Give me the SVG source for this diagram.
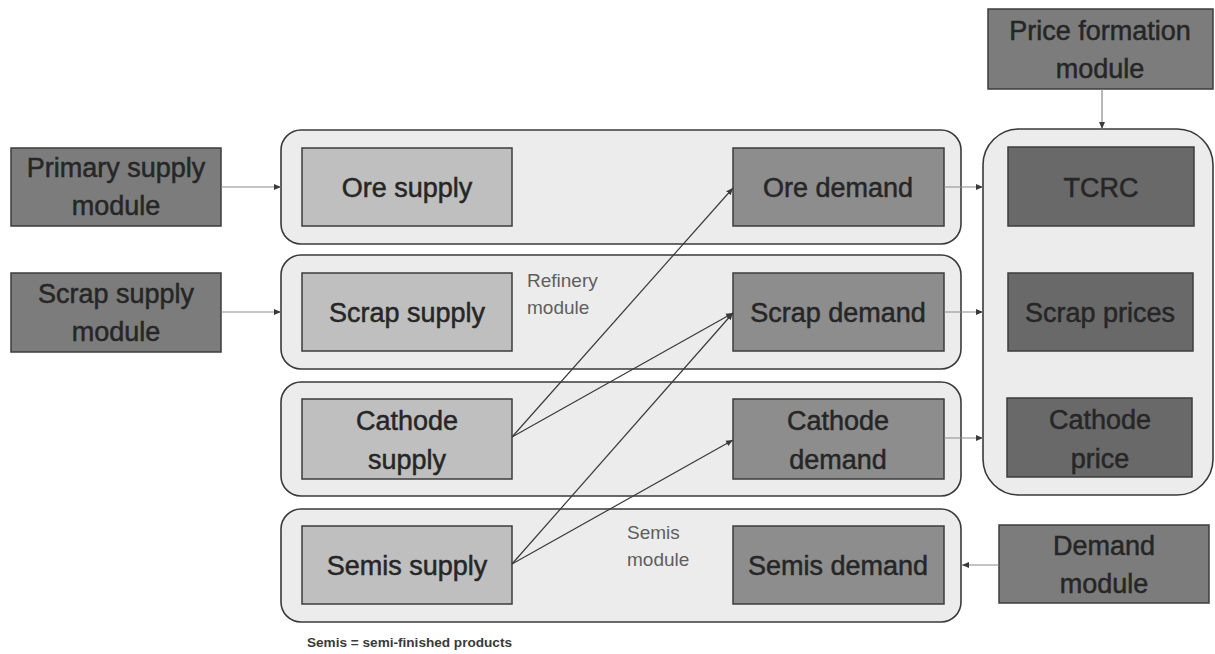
<svg xmlns="http://www.w3.org/2000/svg" width="1215" height="654" viewBox="0 0 1215 654">
  <style>
    .module { fill: #7c7c7c; stroke: #3c3c3c; stroke-width: 1.5; }
    .supply { fill: #bfbfbf; stroke: #3c3c3c; stroke-width: 1.5; }
    .demand { fill: #8d8d8d; stroke: #3c3c3c; stroke-width: 1.5; }
    .price  { fill: #696969; stroke: #3c3c3c; stroke-width: 1.5; }
    .group  { fill: #ececec; stroke: #3a3a3a; stroke-width: 1.6; }
    .t { font-family: "Liberation Sans", Arial, sans-serif; font-size: 27px; fill: #262626; stroke: #262626; stroke-width: 0.5; text-anchor: middle; }
    .lbl { font-family: "Liberation Sans", Arial, sans-serif; font-size: 19px; fill: #5e5e5e; }
    .note { font-family: "Liberation Sans", Arial, sans-serif; font-size: 12px; font-weight: bold; fill: #3a3a3a; }
    .link { stroke: #3a3a3a; stroke-width: 1.2; fill: none; marker-end: url(#arrow); }
    .feed { stroke: #8a8a8a; stroke-width: 1.2; fill: none; marker-end: url(#arrow); }
  </style>
  <defs>
    <marker id="arrow" markerWidth="8" markerHeight="8" refX="7" refY="4" orient="auto" markerUnits="userSpaceOnUse">
      <path d="M0,1 L7,4 L0,7 Z" fill="#3a3a3a"/>
    </marker>
  </defs>

  <rect width="1215" height="654" fill="#ffffff"/>

  <!-- row containers -->
  <g id="ore-row"><rect class="group" x="281" y="130" width="680" height="114" rx="20"/></g>
  <g id="scrap-row"><rect class="group" x="281" y="255" width="680" height="114" rx="20"/></g>
  <g id="cathode-row"><rect class="group" x="281" y="382" width="680" height="114" rx="20"/></g>
  <g id="semis-row"><rect class="group" x="281" y="509" width="680" height="113" rx="20"/></g>
  <g id="price-group"><rect class="group" x="983" y="129" width="230" height="366" rx="36"/></g>

  <!-- external modules -->
  <g id="primary-supply-module">
    <rect class="module" x="11" y="148" width="210" height="78"/>
    <text class="t" x="116" y="177">Primary supply</text>
    <text class="t" x="116" y="215">module</text>
  </g>
  <g id="scrap-supply-module">
    <rect class="module" x="11" y="273" width="210" height="79"/>
    <text class="t" x="116" y="303">Scrap supply</text>
    <text class="t" x="116" y="341">module</text>
  </g>
  <g id="price-formation-module">
    <rect class="module" x="988" y="9" width="225" height="80"/>
    <text class="t" x="1100" y="40">Price formation</text>
    <text class="t" x="1100" y="78">module</text>
  </g>
  <g id="demand-module">
    <rect class="module" x="999" y="525" width="210" height="78"/>
    <text class="t" x="1104" y="555">Demand</text>
    <text class="t" x="1104" y="593">module</text>
  </g>

  <!-- supply side -->
  <g id="ore-supply">
    <rect class="supply" x="302" y="148" width="210" height="78"/>
    <text class="t" x="407" y="197">Ore supply</text>
  </g>
  <g id="scrap-supply">
    <rect class="supply" x="302" y="273" width="210" height="78"/>
    <text class="t" x="407" y="322">Scrap supply</text>
  </g>
  <g id="cathode-supply">
    <rect class="supply" x="302" y="399" width="210" height="80"/>
    <text class="t" x="407" y="430">Cathode</text>
    <text class="t" x="407" y="469">supply</text>
  </g>
  <g id="semis-supply">
    <rect class="supply" x="302" y="526" width="210" height="78"/>
    <text class="t" x="407" y="575">Semis supply</text>
  </g>

  <!-- demand side -->
  <g id="ore-demand">
    <rect class="demand" x="733" y="148" width="211" height="78"/>
    <text class="t" x="838" y="197">Ore demand</text>
  </g>
  <g id="scrap-demand">
    <rect class="demand" x="733" y="273" width="211" height="78"/>
    <text class="t" x="838" y="322">Scrap demand</text>
  </g>
  <g id="cathode-demand">
    <rect class="demand" x="733" y="399" width="211" height="80"/>
    <text class="t" x="838" y="430">Cathode</text>
    <text class="t" x="838" y="469">demand</text>
  </g>
  <g id="semis-demand">
    <rect class="demand" x="733" y="526" width="211" height="78"/>
    <text class="t" x="838" y="575">Semis demand</text>
  </g>

  <!-- prices -->
  <g id="tcrc">
    <rect class="price" x="1008" y="147" width="186" height="79"/>
    <text class="t" x="1101" y="197">TCRC</text>
  </g>
  <g id="scrap-prices">
    <rect class="price" x="1008" y="273" width="185" height="78"/>
    <text class="t" x="1100" y="322">Scrap prices</text>
  </g>
  <g id="cathode-price">
    <rect class="price" x="1007" y="398" width="185" height="79"/>
    <text class="t" x="1100" y="429">Cathode</text>
    <text class="t" x="1100" y="468">price</text>
  </g>

  <!-- module labels -->
  <g id="refinery-label">
    <text class="lbl" x="527" y="287">Refinery</text>
    <text class="lbl" x="527" y="314">module</text>
  </g>
  <g id="semis-label">
    <text class="lbl" x="627" y="539">Semis</text>
    <text class="lbl" x="627" y="566">module</text>
  </g>

  <!-- connectors -->
  <g id="connectors">
    <path class="feed" d="M221,187 L281,187"/>
    <path class="feed" d="M221,312 L281,312"/>
    <path class="feed" d="M944,187 L983,187"/>
    <path class="feed" d="M944,312 L983,312"/>
    <path class="feed" d="M944,438 L983,438"/>
    <path class="feed" d="M1102,89 L1102,129"/>
    <path class="feed" d="M999,565 L962,565"/>
    <path class="link" d="M512,437 L733,188"/>
    <path class="link" d="M512,437 L733,313"/>
    <path class="link" d="M512,564 L733,313"/>
    <path class="link" d="M512,564 L733,440"/>
  </g>

  <text class="note" x="307" y="647" textLength="205" lengthAdjust="spacingAndGlyphs">Semis = semi-finished products</text>
</svg>
